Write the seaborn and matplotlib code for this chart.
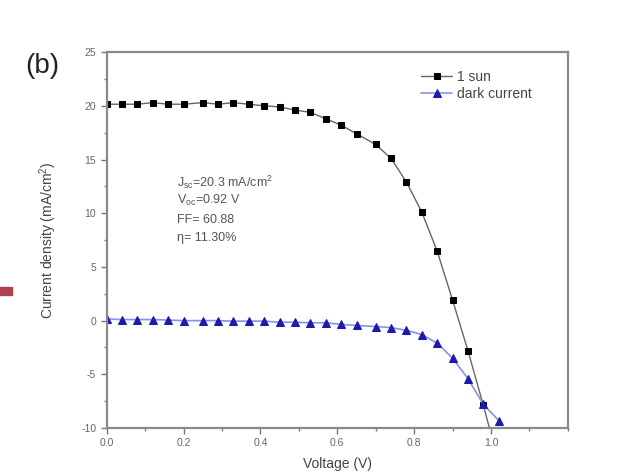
import numpy as np
import pandas as pd
import matplotlib
matplotlib.use("Agg")
import matplotlib.pyplot as plt
import seaborn as sns
from matplotlib.ticker import MultipleLocator

# voltage (V)
voltage_sun = [0.00, 0.04, 0.08, 0.12, 0.16, 0.20, 0.25, 0.29, 0.33, 0.37,
               0.41, 0.45, 0.49, 0.53, 0.57, 0.61, 0.65, 0.70, 0.74, 0.78,
               0.82, 0.86, 0.90, 0.94, 0.98, 1.02]
current_sun = [20.15, 20.15, 20.15, 20.3, 20.15, 20.15, 20.3, 20.15, 20.3, 20.15,
               20.0, 19.9, 19.6, 19.4, 18.8, 18.2, 17.4, 16.4, 15.1, 12.9,
               10.1, 6.45, 1.9, -2.8, -7.9, -13.2]

voltage_dark = [0.00, 0.04, 0.08, 0.12, 0.16, 0.20, 0.25, 0.29, 0.33, 0.37,
                0.41, 0.45, 0.49, 0.53, 0.57, 0.61, 0.65, 0.70, 0.74, 0.78,
                0.82, 0.86, 0.90, 0.94, 0.98, 1.02]
current_dark = [0.15, 0.1, 0.1, 0.1, 0.05, 0.0, 0.0, 0.0, -0.05, -0.05,
                -0.05, -0.15, -0.15, -0.2, -0.2, -0.35, -0.45, -0.55, -0.65, -0.9,
                -1.3, -2.1, -3.5, -5.4, -7.8, -9.3]

params = ["J$_\\mathregular{sc}$=20.3 mA/cm$^\\mathregular{2}$",
          "V$_\\mathregular{oc}$=0.92 V", "FF= 60.88", "\u03b7= 11.30%"]

sns.set_style("white")
plt.rcParams["font.family"] = ["Liberation Sans", "DejaVu Sans"]
plt.rcParams["axes.unicode_minus"] = False

fig = plt.figure(figsize=(6.2, 4.74), dpi=100)
ax = fig.add_axes([0.172, 0.097, 0.744, 0.793])

sun = pd.DataFrame({"V": voltage_sun, "J": current_sun})
dark = pd.DataFrame({"V": voltage_dark, "J": current_dark})

sns.lineplot(data=sun, x="V", y="J", ax=ax, sort=False, color="#666666",
             lw=1.0, marker="s", markersize=5, markerfacecolor="black",
             markeredgecolor="black", label="1 sun")
sns.lineplot(data=dark, x="V", y="J", ax=ax, sort=False, color="#8a90ea",
             lw=1.2, marker="^", markersize=6,
             markerfacecolor="#1c1ca8", markeredgecolor="#1c1ca8",
             label="dark current")

ax.set_xlim(0, 1.2)
ax.set_ylim(-10, 25)
ax.xaxis.set_major_locator(MultipleLocator(0.2))
ax.xaxis.set_minor_locator(MultipleLocator(0.1))
ax.yaxis.set_major_locator(MultipleLocator(5))
ax.yaxis.set_minor_locator(MultipleLocator(2.5))
ax.set_xticks([0.0, 0.2, 0.4, 0.6, 0.8, 1.0])
ax.tick_params(which="both", direction="out", colors="#777777",
               labelcolor="#666666", labelsize=7.5, top=False, right=False,
               bottom=True, left=True)
ax.tick_params(which="major", length=4, width=1)
ax.tick_params(which="minor", length=2.5, width=1)

for s in ax.spines.values():
    s.set_color("#8a8a8a")
    s.set_linewidth(1.6)

ax.set_xlabel("Voltage (V)", fontsize=10, color="#444444", labelpad=6)
ax.set_ylabel("Current density (mA/cm$^\\mathregular{2}$)", fontsize=10,
              color="#444444", labelpad=16)

for i, t in enumerate(params):
    ax.text(0.184, 12.9 - i * 1.75, t, fontsize=9, color="#555555",
            va="center", ha="left")

ax.legend(loc="upper left", bbox_to_anchor=(0.655, 0.985), frameon=False,
          fontsize=10, handlelength=2.2, handletextpad=0.4, labelspacing=0.2,
          labelcolor="#444444")

fig.text(0.04, 0.845, "(b)", fontsize=20, color="#222222")
fig.patches.append(plt.Rectangle((0.0, 0.378), 0.019, 0.017,
                                 transform=fig.transFigure,
                                 color="#b04050", figure=fig))

fig.savefig("out.png", dpi=100)
